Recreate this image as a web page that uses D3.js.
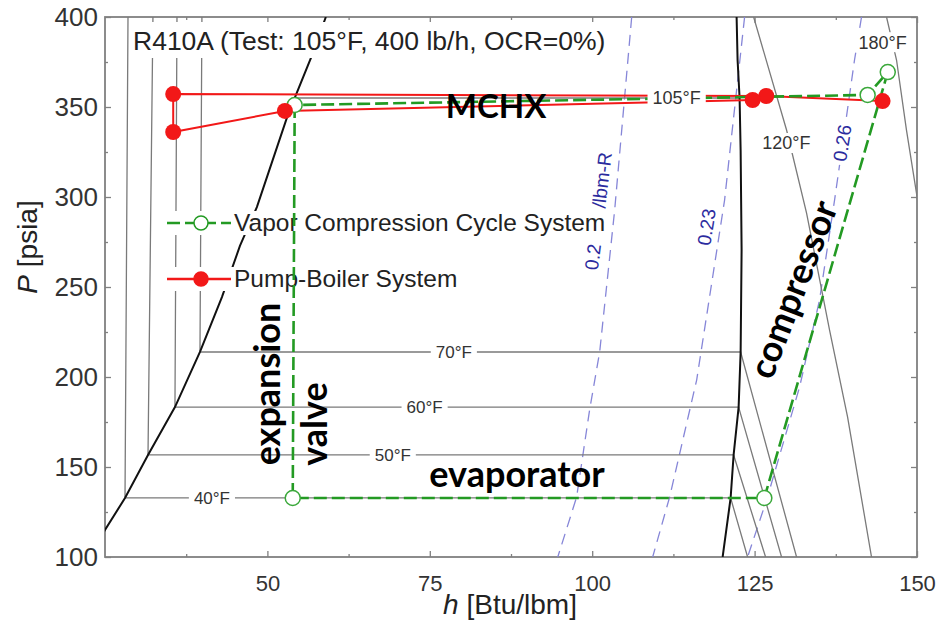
<!DOCTYPE html>
<html>
<head>
<meta charset="utf-8">
<script src="https://cdn.jsdelivr.net/npm/d3@7"></script>
<style>
  body { margin: 0; background: #fff; }
  svg { display: block; font-family: Arial, "Liberation Sans", sans-serif; }
</style>
</head>
<body>
<svg id="chart" width="936" height="625"></svg>
<script>
// axis ticks
var xTicks = [50, 75, 100, 125, 150];
var xMinor = [37.5, 62.5, 87.5, 112.5, 137.5];
var yTicks = [100, 150, 200, 250, 300, 350, 400];
var yMinor = [125, 175, 225, 275, 325, 375];

// saturation dome, [h, P]
var satLiquid = [[22.6, 100], [25, 115], [28.08, 132.8], [31.62, 156.7], [35.77, 183.3], [39.62, 213.9],
  [43.0, 244.4], [45.77, 272.8], [48.38, 294.4], [53.15, 345.6], [56.69, 377.2], [59.0, 400]];
var satVapor = [[120.08, 100], [121.31, 132.8], [121.77, 156.7], [122.54, 183.3], [122.85, 213.9],
  [123.0, 270.6], [122.85, 326], [122.69, 355], [122.38, 376.1], [122.23, 400]];

// isotherms, [h, P]
var iso40 = [[28.54, 400], [28.08, 132.8], [121.31, 132.8], [123.92, 100]];
var iso50 = [[32.38, 400], [31.62, 156.7], [121.77, 156.7], [126.69, 100]];
var iso60 = [[36.08, 400], [35.77, 183.3], [122.54, 183.3], [129.15, 100]];
var iso70 = [[39.92, 400], [39.62, 213.9], [122.85, 213.9], [131.46, 100]];
var iso105 = [[54.2, 355], [122.69, 355]];
var iso120 = [[124.85, 400], [129.92, 337.2], [133.0, 291.1], [136.54, 226.1], [139.31, 177.8], [143.0, 100]];
var iso180 = [[145.31, 400], [146.85, 376.1], [148.38, 337.2], [150.5, 289]];
var isoLabels = ['40°F', '50°F', '60°F', '70°F', '105°F', '120°F', '180°F'];
var isoLabelAt = [[41.46, 132.8], [69.3, 156.7], [74.2, 183.3], [78.7, 213.9], [113.0, 355], [129.9, 330], [144.7, 386]];

// isentropes, [h, P]
var s020 = [[106.08, 400], [103.46, 292.8], [101.15, 213.9], [99.6, 181.7], [97.6, 133.3], [94.7, 100]];
var s023 = [[123.46, 400], [120.38, 298.3], [116.08, 198.3], [111.92, 133.3], [109.31, 100]];
var s026 = [[141.46, 400], [140.38, 376.1], [138.85, 337.2], [137.31, 298.3], [135.0, 242.8], [131.92, 194.4], [126.85, 131.7], [123.92, 100]];

// cycles
var vccH = [54.2, 53.9, 126.5, 145.5, 142.4, 54.2];
var vccP = [351.1, 132.8, 132.8, 369.4, 356.7, 351.1];
var pbH = [144.7, 126.8, 35.5, 35.5, 52.7, 124.7];
var pbP = [353.3, 356.1, 357.2, 336.1, 347.8, 353.9];

var svg = d3.select('#chart');
var x = d3.scaleLinear().domain([25, 150]).range([105, 917]);
var y = d3.scaleLinear().domain([100, 400]).range([557, 17]);

var line = d3.line().x(function(d) { return x(d[0]); }).y(function(d) { return y(d[1]); });

svg.append('clipPath').attr('id', 'plot')
  .append('rect').attr('x', 105).attr('y', 17).attr('width', 812).attr('height', 540);

// ticks, all pointing inward
function ticks(axis, tr, vals, size) {
  var g = svg.append('g').attr('transform', tr)
    .call(axis.tickValues(vals).tickSizeInner(-size).tickSizeOuter(0));
  g.select('.domain').remove();
  g.selectAll('line').attr('stroke', '#808080').attr('stroke-width', 1.3);
  return g;
}
var bx = ticks(d3.axisBottom(x).tickPadding(18), 'translate(0,557)', xTicks, 6);
bx.selectAll('text').attr('font-size', 22).attr('fill', '#333');
var ly = ticks(d3.axisLeft(y).tickPadding(7), 'translate(105,0)', yTicks, 6);
ly.selectAll('text').attr('font-size', 26).attr('fill', '#333');
ticks(d3.axisTop(x).tickFormat(''), 'translate(0,17)', xTicks, 6);
ticks(d3.axisRight(y).tickFormat(''), 'translate(917,0)', yTicks, 6);
ticks(d3.axisBottom(x).tickFormat(''), 'translate(0,557)', xMinor, 3);
ticks(d3.axisTop(x).tickFormat(''), 'translate(0,17)', xMinor, 3);
ticks(d3.axisLeft(y).tickFormat(''), 'translate(105,0)', yMinor, 3);
ticks(d3.axisRight(y).tickFormat(''), 'translate(917,0)', yMinor, 3);

svg.append('rect').attr('x', 105).attr('y', 17).attr('width', 812).attr('height', 540)
  .attr('fill', 'none').attr('stroke', '#808080').attr('stroke-width', 1.8);

var plot = svg.append('g').attr('clip-path', 'url(#plot)');

// isentropes
[s020, s023, s026].forEach(function(s) {
  plot.append('path').attr('d', line(s)).attr('fill', 'none')
    .attr('stroke', '#8686d8').attr('stroke-width', 1.3).attr('stroke-dasharray', '11,7');
});

// isotherms
[iso40, iso50, iso60, iso70, iso105, iso120, iso180].forEach(function(s) {
  plot.append('path').attr('d', line(s)).attr('fill', 'none')
    .attr('stroke', '#7a7a7a').attr('stroke-width', 1.3);
});

// saturation dome
[satLiquid, satVapor].forEach(function(s) {
  plot.append('path').attr('d', line(s)).attr('fill', 'none')
    .attr('stroke', '#111').attr('stroke-width', 2);
});

// title box hides the lines behind it
svg.append('rect').attr('x', 130).attr('y', 22).attr('width', 480).attr('height', 36).attr('fill', '#fff');
svg.append('text').attr('x', 133).attr('y', 50).attr('font-size', 26.5).attr('fill', '#222')
  .text('R410A (Test: 105°F, 400 lb/h, OCR=0%)');

// legend
var legend = [
  { label: 'Vapor Compression Cycle System', color: '#239a23', dash: '13,5', fill: '#fff', y: 223 },
  { label: 'Pump-Boiler System', color: '#f21818', dash: null, fill: '#f21818', y: 279 }
];
legend.forEach(function(d) {
  var g = svg.append('g').attr('transform', 'translate(0,' + d.y + ')');
  var t = g.append('text').attr('x', 234).attr('y', 8).attr('font-size', 24.5).attr('fill', '#222').text(d.label);
  var w = t.node().getComputedTextLength();
  g.insert('rect', 'text').attr('x', 162).attr('y', -12).attr('width', 234 + w - 162 + 4).attr('height', 24).attr('fill', '#fff');
  g.append('line').attr('x1', 167).attr('x2', 231).attr('stroke', d.color).attr('stroke-width', 2.4)
    .attr('stroke-dasharray', d.dash);
  g.append('circle').attr('cx', 201).attr('r', 7).attr('fill', d.fill).attr('stroke', d.color).attr('stroke-width', 1.5);
});

// cycles
var vcc = d3.zip(vccH, vccP), pb = d3.zip(pbH, pbP);
svg.append('path').attr('d', line(pb)).attr('fill', 'none').attr('stroke', '#f21818').attr('stroke-width', 2);
svg.append('path').attr('d', line(vcc)).attr('fill', 'none').attr('stroke', '#239a23')
  .attr('stroke-width', 2.6).attr('stroke-dasharray', '13,5');
svg.selectAll('.vcc').data(vcc.slice(0, 5)).enter().append('circle')
  .attr('cx', function(d) { return x(d[0]); }).attr('cy', function(d) { return y(d[1]); })
  .attr('r', 7.5).attr('fill', '#fff').attr('stroke', '#3aa83a').attr('stroke-width', 1.5);
svg.selectAll('.pb').data(pb).enter().append('circle')
  .attr('cx', function(d) { return x(d[0]); }).attr('cy', function(d) { return y(d[1]); })
  .attr('r', 8).attr('fill', '#f21818');

// isotherm labels on white
isoLabels.forEach(function(s, i) {
  var px = x(isoLabelAt[i][0]), py = y(isoLabelAt[i][1]);
  var fs = i < 4 ? 17 : 18;
  var t = svg.append('text').attr('x', px).attr('y', py).attr('dy', '0.35em')
    .attr('text-anchor', 'middle').attr('font-size', fs).attr('fill', '#333').text(s);
  var w = t.node().getComputedTextLength();
  svg.insert('rect', function() { return t.node(); })
    .attr('x', px - w / 2 - 5).attr('y', py - 10).attr('width', w + 10).attr('height', 20).attr('fill', '#fff');
});

// isentrope labels
var sLabels = [
  { t: '0.2', at: [100.1, 266.7], a: -83, bg: false },
  { t: '/lbm-R', at: [101.5, 309.4], a: -83, bg: false },
  { t: '0.23', at: [117.6, 283.3], a: -81, bg: false },
  { t: '0.26', at: [138.5, 330], a: -81, bg: true }
];
sLabels.forEach(function(d) {
  var g = svg.append('g').attr('transform', 'translate(' + x(d.at[0]) + ',' + y(d.at[1]) + ') rotate(' + d.a + ')');
  if (d.bg) g.append('rect').attr('x', -22).attr('y', -10).attr('width', 44).attr('height', 20).attr('fill', '#fff');
  g.append('text').attr('text-anchor', 'middle').attr('dy', '0.35em').attr('font-size', 19)
    .attr('fill', '#2b2b9e').text(d.t);
});

// process annotations
var notes = [
  { t: 'MCHX', x: 496, y: 118, a: 0, fs: 33 },
  { t: 'evaporator', x: 517, y: 487, a: 0, fs: 36 },
  { t: 'expansion', x: 280, y: 384, a: -90, fs: 36 },
  { t: 'valve', x: 327, y: 424, a: -90, fs: 36 },
  { t: 'compressor', x: 805, y: 294, a: -69, fs: 36 }
];
notes.forEach(function(d) {
  svg.append('text').attr('transform', 'translate(' + d.x + ',' + d.y + ') rotate(' + d.a + ')')
    .attr('text-anchor', 'middle').attr('font-family', 'Lato, "Open Sans", sans-serif')
    .attr('font-weight', 700).attr('font-size', d.fs).attr('fill', '#000').text(d.t);
});

// axis titles
svg.append('text').attr('transform', 'translate(37,247) rotate(-90)').attr('text-anchor', 'middle')
  .attr('font-size', 28).attr('fill', '#222')
  .html('<tspan font-style="italic">P</tspan> [psia]');
svg.append('text').attr('x', 510).attr('y', 614).attr('text-anchor', 'middle')
  .attr('font-size', 28).attr('fill', '#222')
  .html('<tspan font-style="italic">h</tspan> [Btu/lbm]');
</script>
</body>
</html>
